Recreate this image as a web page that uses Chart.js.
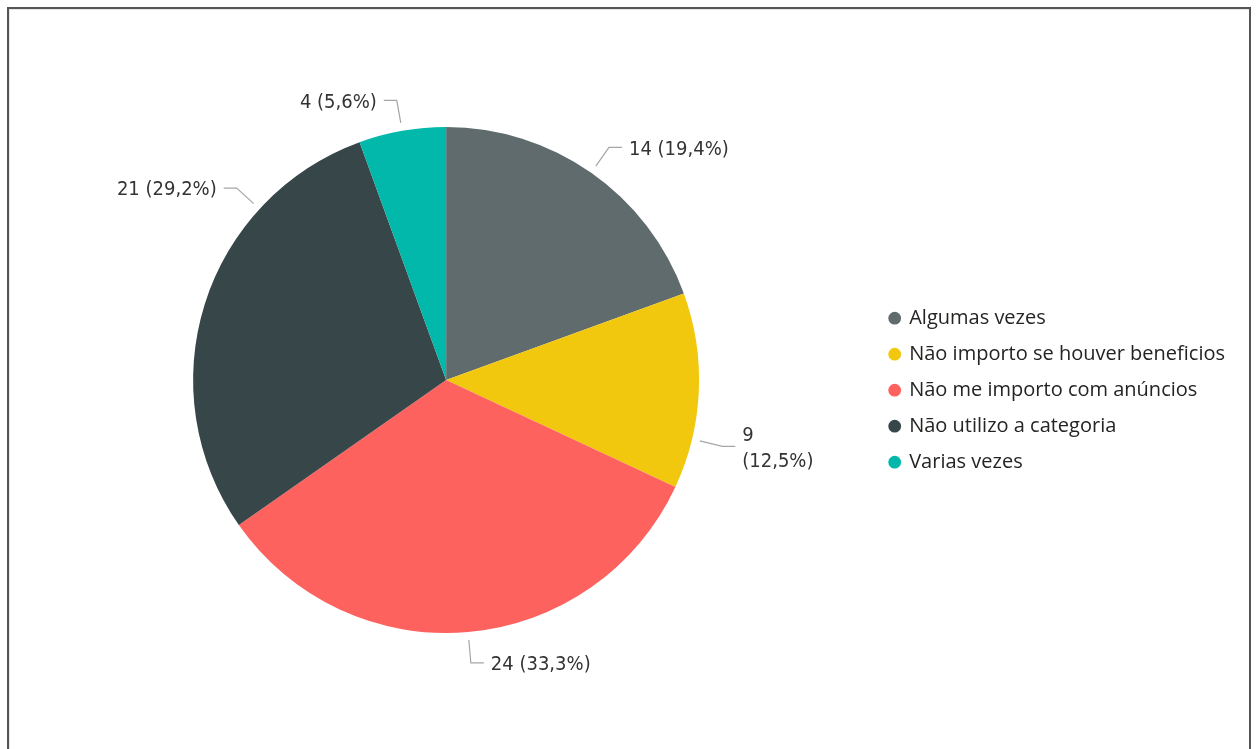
<!DOCTYPE html>
<html>
<head>
<meta charset="utf-8">
<script src="https://cdn.jsdelivr.net/npm/chart.js@4.4.1/dist/chart.umd.min.js"></script>
<style>
  html, body { margin: 0; padding: 0; background: #fff; overflow: hidden; }
  .frame {
    position: absolute; left: 7px; top: 7px;
    width: 1240px; height: 800px;
    border: 2px solid #555; border-bottom: none;
    box-shadow: inset 1px 1px 0 #e6e6e6;
  }
  #wrap { position: absolute; left: 9px; top: 9px; width: 1240px; height: 740px; }
</style>
</head>
<body>
<div class="frame"></div>
<div id="wrap"><canvas id="pieChart"></canvas></div>
<script>
// answers per category
const categories = ['Algumas vezes', 'Não importo se houver beneficios', 'Não me importo com anúncios', 'Não utilizo a categoria', 'Varias vezes'];
const counts = [14, 9, 24, 21, 4];
const sliceColors = ['#5F6B6D', '#F2C80F', '#FD625E', '#374649', '#01B8AA'];

const total = counts.reduce((a, b) => a + b, 0);
const labelText = (v) => v + ' (' + (v / total * 100).toFixed(1).replace('.', ',') + '%)';

// outside labels with a leader line, like the report visual
const leaderLabels = {
  id: 'leaderLabels',
  afterDatasetsDraw(chart, args, opts) {
    const ctx = chart.ctx;
    const arcs = chart.getDatasetMeta(0).data;
    ctx.save();
    ctx.font = opts.font;
    ctx.fillStyle = opts.color;
    ctx.strokeStyle = opts.lineColor;
    ctx.lineWidth = 1.2;
    ctx.textBaseline = 'middle';
    arcs.forEach((arc, i) => {
      const {x, y, startAngle, endAngle, outerRadius} = arc.getProps(['x', 'y', 'startAngle', 'endAngle', 'outerRadius'], true);
      const a = (startAngle + endAngle) / 2 + (opts.shift[i] || 0) * Math.PI / 180;
      const cos = Math.cos(a), sin = Math.sin(a);
      const r0 = outerRadius + 8, r1 = outerRadius + 31;
      const ex = x + cos * r1, ey = y + sin * r1;
      const dir = cos >= 0 ? 1 : -1;
      const hx = ex + dir * 13;
      ctx.beginPath();
      ctx.moveTo(x + cos * r0, y + sin * r0);
      ctx.lineTo(ex, ey);
      ctx.lineTo(hx, ey);
      ctx.stroke();

      const v = counts[i];
      let lines = [labelText(v)];
      if (opts.wrap.includes(i)) {
        lines = [String(v), '(' + labelText(v).split(' (')[1]];
      }
      ctx.textAlign = dir > 0 ? 'left' : 'right';
      const lh = 26;
      const top = ey + 2 - (lines.length - 1) * lh / 2;
      lines.forEach((t, k) => ctx.fillText(t, hx + dir * 7, top + k * lh));
    });
    ctx.restore();
  }
};

new Chart(document.getElementById('pieChart'), {
  type: 'pie',
  data: {
    labels: categories,
    datasets: [{
      data: counts,
      backgroundColor: sliceColors,
      borderWidth: 0
    }]
  },
  options: {
    responsive: true,
    maintainAspectRatio: false,
    animation: false,
    layout: { padding: { top: 118, bottom: 116, left: 9, right: 14 } },
    plugins: {
      tooltip: { enabled: false },
      legend: {
        position: 'right',
        // empty title only pushes the items down a little
        title: { display: true, text: '', padding: 3 },
        labels: {
          usePointStyle: true,
          pointStyle: 'circle',
          boxWidth: 9,
          boxHeight: 9,
          padding: 16,
          color: '#252423',
          font: { family: '"Open Sans", sans-serif', size: 20 }
        }
      },
      leaderLabels: {
        font: '20px "DejaVu Sans Condensed", "Liberation Sans Narrow", sans-serif',
        color: '#333',
        lineColor: '#a6a6a6',
        shift: {1: 11, 3: 25},
        wrap: [1]
      }
    }
  },
  plugins: [leaderLabels]
});
</script>
</body>
</html>
